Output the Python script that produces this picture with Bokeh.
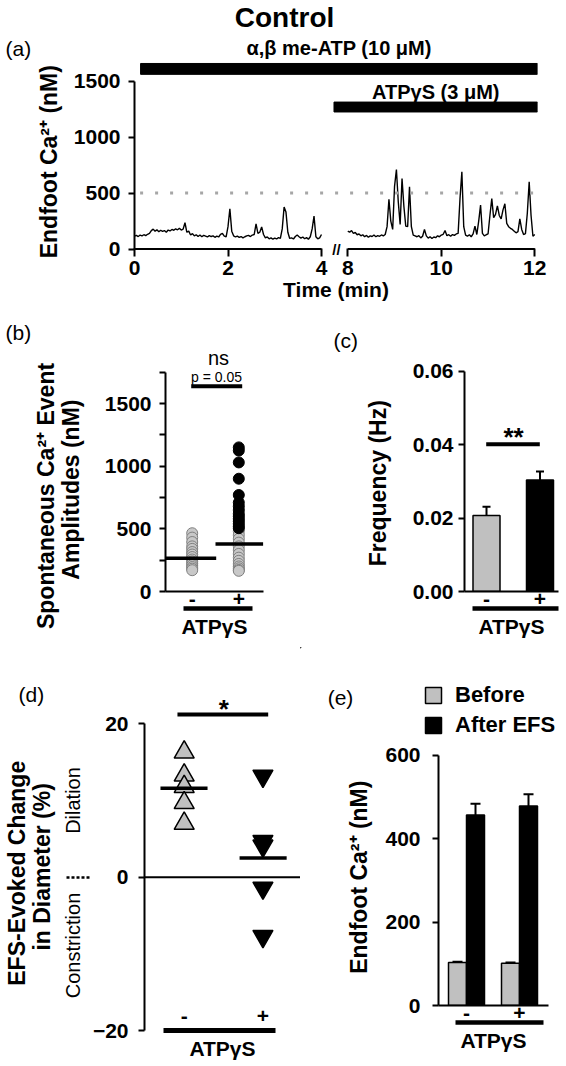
import math
from bokeh.plotting import figure
from bokeh.layouts import column, row
from bokeh.models import (FixedTicker, LinearAxis, Label, Legend, LegendItem,
                          NumeralTickFormatter, Range1d, Title)
from bokeh.core.properties import value
from bokeh.embed import file_html
from bokeh.resources import INLINE

FONT = "Liberation Sans"
TICK_FS = "21px"
TITLE_FS = "23px"
XTITLE_FS = "21px"
NB = "\u00a0"  # non-breaking space used to nudge rotated titles along their axis

# ---------------- data ----------------
# (a) endfoot Ca2+ trace, sampled every 0.04 min
trace_dt_min = 0.04
trace1_start_min = 0.0
trace1_nM = [115, 122, 112, 125, 118, 128, 120, 132, 140, 165,
             178, 160, 172, 155, 168, 158, 165, 150, 170, 162,
             175, 168, 180, 172, 185, 170, 178, 235, 150, 160,
             125, 138, 118, 128, 112, 125, 110, 122, 115, 108,
             120, 112, 118, 105, 115, 108, 132, 140, 115, 110,
             200, 360, 160, 118, 108, 115, 105, 112, 100, 110,
             118, 122, 112, 125, 130, 225, 140, 150, 198, 130,
             100, 108, 92, 100, 88, 98, 90, 102, 95, 180,
             375, 330, 150, 95, 100, 90, 112, 125, 110, 98,
             108, 92, 102, 88, 110, 180, 295, 110, 92, 100,
             130]
trace2_start_min = 8.0
trace2_nM = [160, 150, 165, 140, 148, 128, 135, 118, 128, 110,
             122, 105, 118, 112, 125, 110, 120, 114, 126, 118,
             130, 200, 445, 250, 175, 560, 710, 420, 220, 630,
             380, 205, 200, 555, 200, 125, 118, 110, 120, 100,
             115, 175, 118, 98, 110, 95, 108, 102, 118, 110,
             125, 132, 165, 120, 128, 115, 130, 122, 135, 140,
             450, 690, 200, 125, 115, 128, 110, 135, 205, 130,
             250, 393, 140, 118, 128, 135, 300, 450, 280, 310,
             385, 300, 270, 350, 405, 230, 200, 185, 175, 160,
             145, 155, 270, 175, 130, 138, 320, 600, 300, 115,
             130]
threshold_nM = 500
time_ticks_min = [0, 2, 4, 8, 10, 12]
drug_names = ["α,β me-ATP (10 μM)", "ATPγS (3 μM)"]
drug_start_min = [0.13, 5.9]
drug_end_min = [12.06, 12.06]

groups = ["-", "+"]
group_x = [1, 2]

# (b) spontaneous event amplitudes (nM)
amp_minus = [465, 430, 395, 360, 340, 315, 295, 275, 255, 240, 225, 210, 195, 182, 170]
amp_plus = [1150, 1125, 1030, 900, 770, 710, 680, 650, 620, 600, 580, 560, 540, 520, 505,
            480, 450, 420, 390, 360, 330, 300, 270, 245, 220, 200, 185, 172, 165]
amp_means = [266, 380]

# (c) event frequency (Hz)
freq_mean = [0.0207, 0.0304]
freq_sem = [0.0024, 0.0023]

# (d) EFS-evoked diameter change (%)
diam_minus = [16.3, 13.3, 11.8, 9.7, 7.0]
diam_plus = [13.2, 4.7, 4.1, -1.4, -7.7]
diam_means = [11.6, 2.5]

# (e) endfoot Ca2+ before / after EFS (nM)
efs_before = [103, 101]
efs_before_sem = [2, 2]
efs_after = [456, 478]
efs_after_sem = [27, 28]

# ---------------- helpers ----------------
BREAK_GAP = 0.5625  # display width of the axis break (min)


def to_disp(t):
    if t <= 4:
        return t
    if t >= 8:
        return t - 8 + 4 + BREAK_GAP
    return 4 + (t - 4) / 4 * BREAK_GAP


class Map:
    """page-pixel <-> data mapping used to place annotations"""
    def __init__(self, px0, x0, sx, py0, y0, sy):
        self.px0, self.x0, self.sx = px0, x0, sx
        self.py0, self.y0, self.sy = py0, y0, sy

    def x(self, px):
        return self.x0 + (px - self.px0) / self.sx

    def y(self, py):
        return self.y0 + (self.py0 - py) / self.sy

    def px(self, x):
        return self.px0 + (x - self.x0) * self.sx


def no_align(p):
    try:
        p.frame_align = False
    except AttributeError:
        pass


def make_fig(width, height, x_range, y_range, left, right, top, bottom):
    p = figure(width=width, height=height, x_range=x_range, y_range=y_range,
               output_backend="svg", toolbar_location=None,
               min_border_left=left, min_border_right=right,
               min_border_top=top, min_border_bottom=bottom)
    p.outline_line_color = None
    p.xgrid.visible = False
    p.ygrid.visible = False
    p.border_fill_color = "white"
    p.background_fill_color = "white"
    no_align(p)
    return p


def head_fig(width, height, px_left, py_top):
    """axis-less strip whose data coords equal page pixels"""
    p = figure(width=width, height=height,
               x_range=Range1d(px_left, px_left + width),
               y_range=Range1d(py_top + height, py_top),
               x_axis_location=None, y_axis_location=None,
               output_backend="svg", toolbar_location=None,
               min_border_left=0, min_border_right=0, min_border_top=0, min_border_bottom=0)
    p.outline_line_color = None
    p.grid.visible = False
    p.border_fill_color = "white"
    p.background_fill_color = "white"
    no_align(p)
    return p


def style_axis(ax, fs=TICK_FS):
    ax.axis_line_color = "black"
    ax.axis_line_width = 2
    ax.major_tick_line_color = "black"
    ax.major_tick_line_width = 2
    ax.major_tick_out = 6
    ax.major_tick_in = 0
    ax.minor_tick_line_color = None
    ax.major_label_text_font = FONT
    ax.major_label_text_font_style = "bold"
    ax.major_label_text_font_size = fs
    ax.major_label_text_color = "black"
    ax.axis_label_text_font = FONT
    ax.axis_label_text_font_style = "bold"
    ax.axis_label_text_font_size = TITLE_FS
    ax.axis_label_text_color = "black"


def title_axis(p, text, standoff, side="left"):
    """an axis without line or ticks that only carries a title"""
    ax = LinearAxis(ticker=FixedTicker(ticks=[]))
    style_axis(ax)
    ax.axis_line_color = None
    ax.major_tick_out = 0
    ax.major_label_standoff = 0
    ax.axis_label = text
    ax.axis_label_standoff = standoff
    p.add_layout(ax, side)
    return ax


def top_text(p, text, fs, offset, standoff, bold=False):
    p.add_layout(Title(text=text, align="left", offset=offset, standoff=standoff,
                       vertical_align="bottom", text_font=FONT, text_font_size=fs,
                       text_font_style="bold" if bold else "normal", text_color="black"),
                 "above")


def add_text(p, x, y, text, fs, bold=True, align="center", baseline="middle", angle=0.0):
    p.add_layout(Label(x=x, y=y, text=text, text_font=FONT, text_font_size=fs,
                       text_font_style="bold" if bold else "normal",
                       text_align=align, text_baseline=baseline, angle=angle,
                       text_color="black"))


def group_axis(p, m, px_left, px_right):
    ax = p.xaxis[0]
    style_axis(ax)
    ax.ticker = FixedTicker(ticks=group_x)
    ax.major_label_overrides = {gx: g for gx, g in zip(group_x, groups)}
    ax.major_tick_out = 0
    ax.major_label_standoff = 0
    ax2 = LinearAxis(ticker=FixedTicker(ticks=[]), bounds=(m.x(px_left), m.x(px_right)))
    style_axis(ax2)
    ax2.axis_line_width = 4.5
    ax2.major_tick_out = 0
    ax2.major_label_standoff = 0
    ax2.axis_label = "ATPγS"
    ax2.axis_label_text_font_size = XTITLE_FS
    ax2.axis_label_standoff = 6
    p.add_layout(ax2, "below")


# ================= row 1: (a) =================
MA = Map(px0=134, x0=0, sx=46.75, py0=250.5, y0=0, sy=0.11317)

ha = head_fig(566, 60, 0, 0)
add_text(ha, 284, 17, "Control", "28px")
add_text(ha, 5, 48, "(a)", "21px", bold=False, align="left")
add_text(ha, MA.px((to_disp(drug_start_min[0]) + to_disp(drug_end_min[0])) / 2), 47,
         drug_names[0], "20px")

pa = make_fig(566, 243, (0, MA.x(537)), (MA.y(258), MA.y(60)), 134, 29, 0, 45)
t1 = [trace1_start_min + i * trace_dt_min for i in range(len(trace1_nM))]
t2 = [trace2_start_min + i * trace_dt_min for i in range(len(trace2_nM))]
pa.line([to_disp(t) for t in t1], trace1_nM, line_color="black", line_width=1.4)
pa.line([to_disp(t) for t in t2], trace2_nM, line_color="black", line_width=1.4)
pa.line([to_disp(0.12), to_disp(12)], [threshold_nM, threshold_nM], line_color="#a6a6a6",
        line_width=3, line_dash="3 12")
# broken time axis
pa.segment(x0=[to_disp(0), to_disp(8)], x1=[to_disp(4), to_disp(12)], y0=[0, 0], y1=[0, 0],
           line_color="black", line_width=2)
add_text(pa, MA.x(336), 0, "//", "15px")

bar_rows = [(63, 74), (102, 112)]
for s, e, (ytop, ybot) in zip(drug_start_min, drug_end_min, bar_rows):
    pa.quad(left=[to_disp(s)], right=[to_disp(e)], top=[MA.y(ytop)], bottom=[MA.y(ybot)],
            fill_color="black", line_color="black")
add_text(pa, (to_disp(drug_start_min[1]) + to_disp(drug_end_min[1])) / 2, MA.y(92),
         drug_names[1], "20px")

ya = pa.yaxis[0]
style_axis(ya)
ya.ticker = FixedTicker(ticks=[0, 500, 1000, 1500])
ya.bounds = (0, 1500)
ya.major_label_standoff = 8
ya.axis_label = "Endfoot Ca²⁺ (nM)" + NB
ya.axis_label_standoff = 9

xa = pa.xaxis[0]
style_axis(xa)
xa.axis_line_color = None
xa.major_tick_out = 0
xa.major_tick_in = 8
xa.ticker = FixedTicker(ticks=[to_disp(t) for t in time_ticks_min])
xa.major_label_overrides = {to_disp(t): str(t) for t in time_ticks_min}
xa.major_label_standoff = 4
xa.axis_label = "Time (min)"
xa.axis_label_text_font_size = XTITLE_FS
xa.axis_label_standoff = 0

# ================= row 2: (b) (c) =================
MB = Map(px0=191.7, x0=1, sx=46.6, py0=591, y0=0, sy=0.12531)
pb = make_fig(290, 344, (MB.x(165), MB.x(263)), (0, MB.y(368)), 165, 27, 65, 56)
pb.scatter([group_x[0]] * len(amp_minus), amp_minus, size=11, fill_color="#c8c8c8",
           line_color="#808080", line_width=1)
plus_gray = [v for v in amp_plus if v < threshold_nM]
plus_black = [v for v in amp_plus if v >= threshold_nM]
pb.scatter([group_x[1]] * len(plus_gray), plus_gray, size=11, fill_color="#c8c8c8",
           line_color="#808080", line_width=1)
pb.scatter([group_x[1]] * len(plus_black), plus_black, size=11, fill_color="black",
           line_color="black", line_width=1)
pb.segment(x0=[MB.x(165), MB.x(215)], x1=[MB.x(215.7), MB.x(262.7)], y0=amp_means, y1=amp_means,
           line_color="black", line_width=3.5)
pb.segment(x0=[MB.x(190.7)], x1=[MB.x(241.7)], y0=[MB.y(385.7)], y1=[MB.y(385.7)],
           line_color="black", line_width=4)
add_text(pb, MB.x(216), MB.y(376), "p = 0.05", "14px", bold=False)
top_text(pb, "ns", "20px", 218 - 165 - 10.5, 0)
top_text(pb, "(b)", "21px", 5 - 165, 2)
yb = pb.yaxis[0]
style_axis(yb)
yb.ticker = FixedTicker(ticks=[0, 500, 1000, 1500], minor_ticks=[250, 750, 1250, 1750])
yb.bounds = (0, 1750)
yb.minor_tick_line_color = "black"
yb.minor_tick_line_width = 2
yb.minor_tick_out = 6
yb.minor_tick_in = 0
yb.major_label_standoff = 8
title_axis(pb, "Amplitudes (nM)" + NB * 3, 18)
title_axis(pb, "Spontaneous Ca²⁺ Event" + NB * 5, -4)
group_axis(pb, MB, 183, 252)

MC = Map(px0=486, x0=1, sx=53.5, py0=591, y0=0, sy=3666.7)
pc = make_fig(276, 344, (MC.x(464), MC.x(558)), (0, MC.y(368)), 174, 8, 65, 56)
bar_w_c = 27 / 53.5
cap_c = 4 / 53.5
tops_c = [m + s for m, s in zip(freq_mean, freq_sem)]
pc.segment(x0=group_x, x1=group_x, y0=freq_mean, y1=tops_c, line_color="black", line_width=2)
pc.segment(x0=[x - cap_c for x in group_x], x1=[x + cap_c for x in group_x], y0=tops_c, y1=tops_c,
           line_color="black", line_width=2)
pc.vbar(x=group_x, top=freq_mean, bottom=0, width=bar_w_c, fill_color=["#c0c0c0", "black"],
        line_color="black", line_width=1.5)
pc.segment(x0=[MC.x(485.7)], x1=[MC.x(539.3)], y0=[MC.y(443.7)], y1=[MC.y(443.7)],
           line_color="black", line_width=4)
add_text(pc, MC.x(513), MC.y(436), "**", "26px", baseline="alphabetic")
top_text(pc, "(c)", "21px", 333 - 464, 34)
yc = pc.yaxis[0]
style_axis(yc)
yc.ticker = FixedTicker(ticks=[0, 0.02, 0.04, 0.06])
yc.formatter = NumeralTickFormatter(format="0.00")
yc.bounds = (0, 0.06)
yc.major_label_standoff = 5
yc.axis_label = "Frequency (Hz)" + NB
yc.axis_label_standoff = 19
group_axis(pc, MC, 471.7, 558)

# ================= row 3: (d) (e) =================
MD = Map(px0=174, x0=1, sx=85.3, py0=876.7, y0=0, sy=7.665)

pdd = make_fig(300, 415, (MD.x(131), MD.x(300)), (-20, MD.y(690)), 131, 0, 43, 32)
pdd.segment(x0=[MD.x(131)], x1=[MD.x(300)], y0=[0], y1=[0], line_color="black", line_width=2)
pdd.scatter([group_x[0]] * len(diam_minus), diam_minus, marker="triangle", size=20,
            fill_color="#c0c0c0", line_color="black", line_width=1.5)
pdd.scatter([group_x[1]] * len(diam_plus), diam_plus, marker="inverted_triangle", size=20,
            fill_color="black", line_color="black", line_width=1.5)
pdd.segment(x0=[MD.x(148.3), MD.x(234)], x1=[MD.x(199.3), MD.x(285)], y0=diam_means, y1=diam_means,
            line_color="black", line_width=3.5)
pdd.segment(x0=[MD.x(166.7)], x1=[MD.x(265)], y0=[MD.y(714)], y1=[MD.y(714)],
            line_color="black", line_width=4)
add_text(pdd, MD.x(217), MD.y(708), "*", "26px", baseline="alphabetic")
top_text(pdd, "(d)", "21px", 5 - 131, -30)
pdd.text(x=group_x, y=[MD.y(1015)] * 2, text=groups, text_font=value(FONT),
         text_font_style="bold", text_font_size="21px", text_align="center",
         text_baseline="middle", text_color="black")
yd = pdd.yaxis[0]
style_axis(yd)
yd.ticker = FixedTicker(ticks=[-20, 0, 20])
yd.bounds = (-20, 20)
yd.major_label_standoff = 10
# Dilation / Constriction guide (dotted zero marker) and the two-line title
dil_y, con_y = MD.y(800), MD.y(945)
d1 = LinearAxis(ticker=FixedTicker(ticks=[dil_y, con_y], minor_ticks=[0]))
style_axis(d1)
d1.axis_line_color = None
d1.major_tick_out = 0
d1.minor_tick_line_color = "black"
d1.minor_tick_line_width = 2.5
d1.minor_tick_line_dash = "3 2"
d1.minor_tick_out = 23
d1.minor_tick_in = 0
d1.major_label_standoff = -17
d1.major_label_orientation = "vertical"
d1.major_label_text_font_style = "normal"
d1.major_label_text_font_size = "20px"
d1.major_label_overrides = {dil_y: "Dilation", con_y: "Constriction"}
d1.axis_label = "in Diameter (%)" + NB * 2
d1.axis_label_standoff = 4
pdd.add_layout(d1, "left")
title_axis(pdd, "EFS-Evoked Change" + NB * 4, -4)
xd = pdd.xaxis[0]
style_axis(xd)
xd.ticker = FixedTicker(ticks=[])
xd.bounds = (MD.x(151.7), MD.x(273.3))
xd.axis_line_width = 5
xd.major_tick_out = 0
xd.major_label_standoff = 0
xd.axis_label = "ATPγS"
xd.axis_label_text_font_size = XTITLE_FS
xd.axis_label_standoff = 6

he = head_fig(266, 95, 300, 647)
add_text(he, 340, 697, "(e)", "21px", bold=False)
# legend swatches: same bars, lying outside this strip's visible range
lg_before = he.vbar(x=group_x, top=efs_before, width=0.3, fill_color="#c0c0c0",
                    line_color="black", line_width=1.5)
lg_after = he.vbar(x=group_x, top=efs_after, width=0.3, fill_color="black",
                   line_color="black", line_width=1.5)
legend = Legend(items=[LegendItem(label="Before", renderers=[lg_before]),
                       LegendItem(label="After EFS", renderers=[lg_after])],
                location=(123, 4), border_line_color=None, background_fill_alpha=0,
                padding=0, margin=0, spacing=4, glyph_width=20, glyph_height=20,
                label_height=20, label_standoff=12, label_text_font=FONT,
                label_text_font_style="bold", label_text_font_size="22px",
                label_text_color="black")
he.add_layout(legend)

ME = Map(px0=466, x0=1, sx=53, py0=1005, y0=0, sy=0.4175)
pe = make_fig(266, 320, (ME.x(438), ME.x(548)), (0, ME.y(742)), 138, 18, 0, 57)
off_e = 9 / 53
bw_e = 18 / 53
cap_e = 5 / 53
xb = [x - off_e for x in group_x]
xaf = [x + off_e for x in group_x]
tb = [m + s for m, s in zip(efs_before, efs_before_sem)]
ta = [m + s for m, s in zip(efs_after, efs_after_sem)]
for xs, ms, ts in ((xb, efs_before, tb), (xaf, efs_after, ta)):
    pe.segment(x0=xs, x1=xs, y0=ms, y1=ts, line_color="black", line_width=2)
    pe.segment(x0=[x - cap_e for x in xs], x1=[x + cap_e for x in xs], y0=ts, y1=ts,
               line_color="black", line_width=2)
pe.vbar(x=xb, top=efs_before, bottom=0, width=bw_e, fill_color="#c0c0c0",
        line_color="black", line_width=1.5)
pe.vbar(x=xaf, top=efs_after, bottom=0, width=bw_e, fill_color="black",
        line_color="black", line_width=1.5)
ye = pe.yaxis[0]
style_axis(ye)
ye.ticker = FixedTicker(ticks=[0, 200, 400, 600])
ye.bounds = (0, 600)
ye.major_label_standoff = 12
ye.axis_label = "Endfoot Ca²⁺ (nM)" + NB
ye.axis_label_standoff = 10
group_axis(pe, ME, 455, 542.7)

layout = column(ha, pa, row(pb, pc), row(pdd, column(he, pe)))
open("out.html", "w").write(file_html(layout, INLINE))
